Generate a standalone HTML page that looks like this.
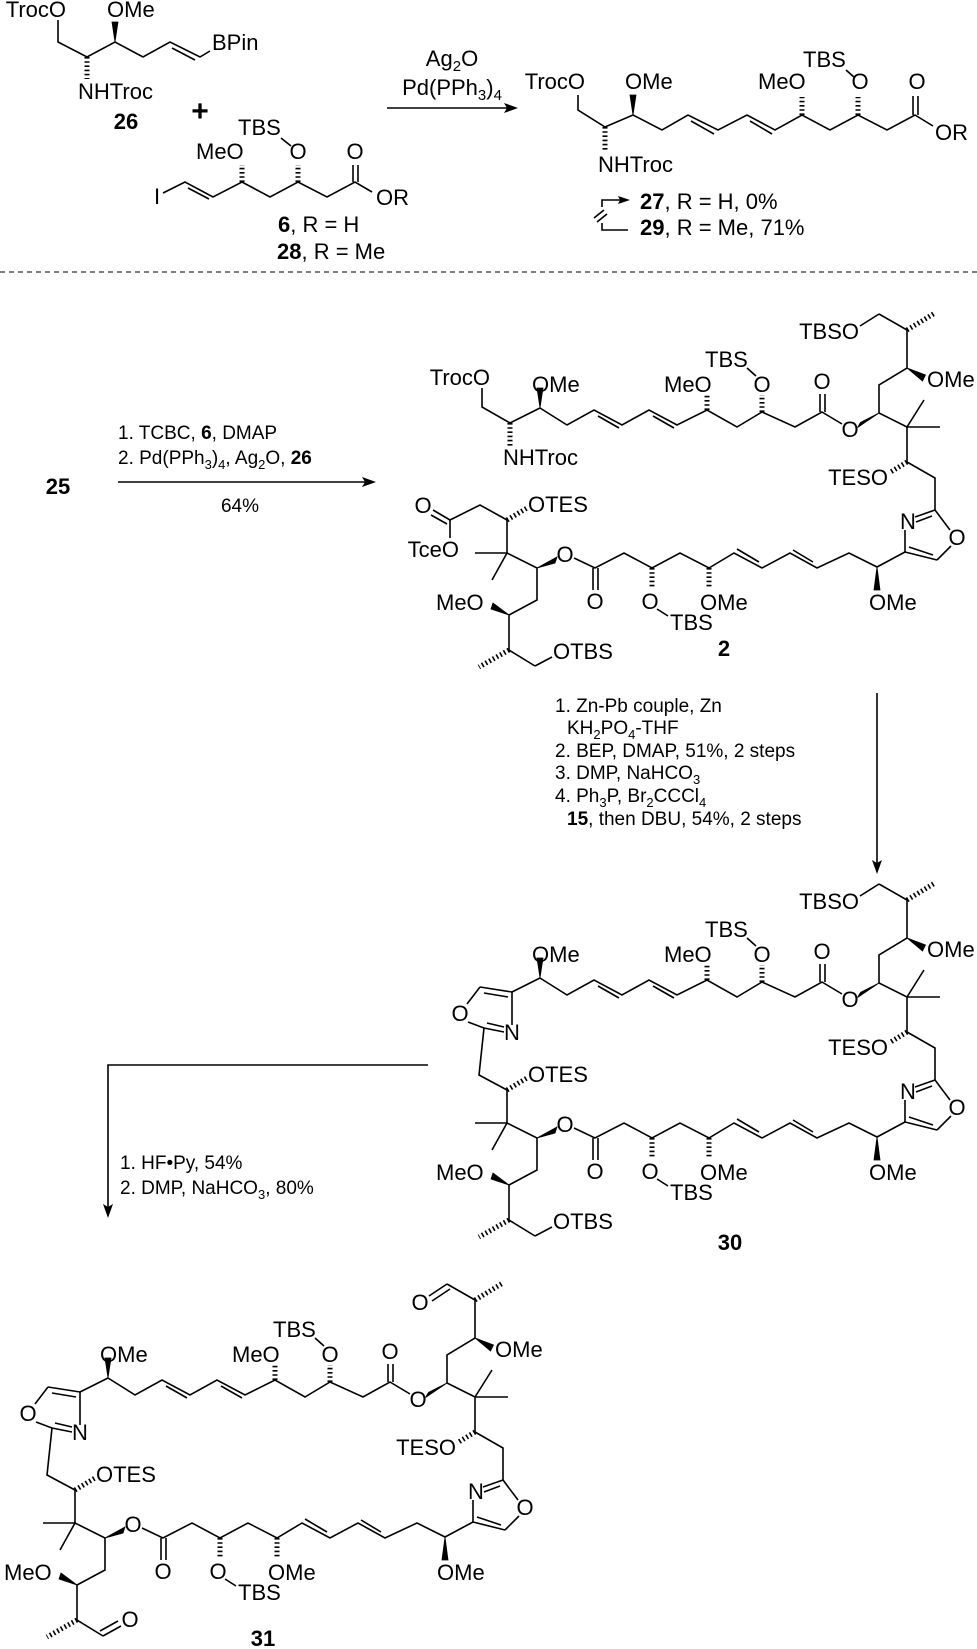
<!DOCTYPE html>
<html><head><meta charset="utf-8"><style>
html,body{margin:0;padding:0;background:#fff}
svg{display:block}
text{font-family:"Liberation Sans",Arial,sans-serif;font-size:22px;fill:#000}
.b{font-weight:bold}
.c{font-size:19px}
.m{text-anchor:middle}
.e{text-anchor:end}
line,polyline{stroke:#000;stroke-width:1.6;fill:none}
.h{stroke-width:5;stroke-dasharray:1.6 2.6}
.w{fill:#000;stroke:#000;stroke-width:0.8}
</style></head><body>
<svg width="977" height="1649" viewBox="0 0 977 1649" xmlns="http://www.w3.org/2000/svg">
<defs>
<g id="core">
<polyline points="108,1378 135,1395 162,1380 190,1395 217,1380 245,1395 275,1380 305,1397 330,1382 363,1397 390,1382 410,1394"/>
<line x1="166" y1="1386" x2="187" y2="1398"/>
<line x1="221" y1="1386" x2="242" y2="1398"/>
<line class="h" x1="275" y1="1380" x2="275" y2="1365"/>
<line class="h" x1="330" y1="1382" x2="330" y2="1365"/>
<line x1="388" y1="1382" x2="388" y2="1364"/>
<line x1="393" y1="1382" x2="393" y2="1364"/>
<line x1="315" y1="1338" x2="324" y2="1346"/>
<polygon class="w" points="447,1383 425.5,1397.6 428.5,1392.4"/>
<polyline points="475,1397 447,1383 447,1355 475,1338 475,1300 447,1284"/>
<polygon class="w" points="475,1338 490.5,1351 493.5,1345"/>
<line class="h" x1="475" y1="1300" x2="503" y2="1283"/>
<line x1="475" y1="1397" x2="492" y2="1370"/>
<line x1="475" y1="1397" x2="508" y2="1397"/>
<polyline points="475,1397 475,1432 503,1448 503,1480"/>
<line class="h" x1="475" y1="1432" x2="457" y2="1443"/>
<line x1="503" y1="1480" x2="483" y2="1487"/>
<line x1="500" y1="1486" x2="484" y2="1492"/>
<line x1="503" y1="1480" x2="518" y2="1500"/>
<line x1="519" y1="1516" x2="505" y2="1530"/>
<line x1="505" y1="1530" x2="473" y2="1522"/>
<line x1="501" y1="1525" x2="477" y2="1517"/>
<line x1="473" y1="1522" x2="473" y2="1500"/>
<line x1="473" y1="1522" x2="445" y2="1537"/>
<polygon class="w" points="445,1537 442,1560 448,1560"/>
<polyline points="445,1537 417,1523 385,1538 358,1523 330,1538 302,1523 277,1538 248,1523 220,1538 192,1523 163,1538 142,1528"/>
<line x1="381" y1="1532" x2="361" y2="1520"/>
<line x1="327" y1="1532" x2="305" y2="1519"/>
<line class="h" x1="277" y1="1538" x2="277" y2="1558"/>
<line class="h" x1="220" y1="1538" x2="220" y2="1558"/>
<line x1="225" y1="1579" x2="236" y2="1586"/>
<line x1="161" y1="1538" x2="161" y2="1560"/>
<line x1="166" y1="1538" x2="166" y2="1560"/>
<polygon class="w" points="105,1538 125,1527 123,1533"/>
<polyline points="43,1523 75,1523 105,1538 105,1570 77,1585 77,1620 103,1636"/>
<line x1="75" y1="1523" x2="60" y2="1550"/>
<line x1="75" y1="1523" x2="75" y2="1490"/>
<line class="h" x1="75" y1="1490" x2="95" y2="1478"/>
<polygon class="w" points="77,1585 61,1573 59,1579"/>
<line class="h" x1="77" y1="1620" x2="47" y2="1637"/>
<polygon class="w" points="108,1378 105,1358 111,1358"/>
</g>
<g id="oxa">
<polyline points="75,1490 47,1475 52,1428"/>
<line x1="52" y1="1428" x2="72" y2="1432"/>
<line x1="55" y1="1423" x2="72" y2="1427"/>
<line x1="80" y1="1425" x2="80" y2="1392"/>
<line x1="80" y1="1392" x2="48" y2="1387"/>
<line x1="76" y1="1397" x2="52" y2="1393"/>
<line x1="48" y1="1387" x2="35" y2="1404"/>
<line x1="36" y1="1422" x2="52" y2="1428"/>
<line x1="80" y1="1392" x2="108" y2="1378"/>
</g>
<g id="tbsends">
<line x1="447" y1="1284" x2="428" y2="1296"/>
<line x1="103" y1="1636" x2="120" y2="1627"/>
</g>
<g id="tx">
<text x="100" y="1362">OMe</text>
<text x="232" y="1362">MeO</text>
<text x="273" y="1337">TBS</text>
<text x="330" y="1362" class="m">O</text>
<text x="390" y="1359" class="m">O</text>
<text x="418" y="1407" class="m">O</text>
<text x="495" y="1357">OMe</text>
<text x="456" y="1455" class="e">TESO</text>
<text x="476" y="1499" class="m">N</text>
<text x="525" y="1515" class="m">O</text>
<text x="437" y="1580">OMe</text>
<text x="268" y="1580">OMe</text>
<text x="218" y="1579" class="m">O</text>
<text x="238" y="1600">TBS</text>
<text x="163" y="1579" class="m">O</text>
<text x="133" y="1532" class="m">O</text>
<text x="96" y="1482">OTES</text>
<text x="4" y="1580">MeO</text>
</g>
</defs>

<!-- 26 -->
<text x="66" y="17" class="e">TrocO</text>
<text x="107" y="17">OMe</text>
<polyline points="58,20 58,42 87,57 115,42 143,57 170,42 200,57 210,51"/>
<line x1="172" y1="48" x2="195" y2="60"/>
<polygon class="w" points="115,42 112,22 118,22"/>
<line class="h" x1="87" y1="57" x2="87" y2="79"/>
<text x="212" y="50">BPin</text>
<text x="78" y="99">NHTroc</text>
<text x="126" y="129" class="b m">26</text>
<text x="200" y="121" class="b m" style="font-size:30px">+</text>
<!-- 6 -->
<text x="238" y="135">TBS</text>
<text x="196" y="159">MeO</text>
<text x="298" y="159" class="m">O</text>
<text x="355" y="159" class="m">O</text>
<text x="157" y="204" class="m">I</text>
<polyline points="163,193 185,182 213,197 242,182 270,197 298,182 327,197 355,182 372,192"/>
<line x1="188" y1="188" x2="209" y2="199"/>
<line class="h" x1="242" y1="182" x2="242" y2="165"/>
<line class="h" x1="298" y1="182" x2="298" y2="165"/>
<line x1="353" y1="182" x2="353" y2="165"/>
<line x1="358" y1="182" x2="358" y2="165"/>
<line x1="281" y1="138" x2="291" y2="146"/>
<text x="376" y="205">OR</text>
<text x="278" y="232"><tspan class="b">6</tspan>,   R = H</text>
<text x="277" y="259"><tspan class="b">28</tspan>, R = Me</text>
<!-- arrow 1 -->
<text x="452" y="66" class="m">Ag<tspan font-size="15" dy="5">2</tspan><tspan dy="-5">O</tspan></text>
<text x="452" y="95" class="m">Pd(PPh<tspan font-size="15" dy="5">3</tspan><tspan dy="-5">)</tspan><tspan font-size="15" dy="5">4</tspan></text>
<line x1="387" y1="108" x2="508" y2="108"/>
<polygon points="518,108 504,103 507,108 504,113"/>
<!-- 27 -->
<text x="585" y="89" class="e">TrocO</text>
<text x="625" y="89">OMe</text>
<polyline points="578,95 578,110 605,127 633,115 662,130 688,115 718,130 747,115 775,130 802,115 830,130 858,115 887,130 915,115 933,126"/>
<line x1="691" y1="121" x2="714" y2="134"/>
<line x1="750" y1="121" x2="772" y2="134"/>
<polygon class="w" points="633,115 630,95 636,95"/>
<line class="h" x1="605" y1="127" x2="605" y2="150"/>
<text x="598" y="172">NHTroc</text>
<text x="758" y="89">MeO</text>
<line class="h" x1="802" y1="115" x2="802" y2="97"/>
<line class="h" x1="858" y1="115" x2="858" y2="97"/>
<text x="803" y="67">TBS</text>
<text x="860" y="89" class="m">O</text>
<line x1="846" y1="70" x2="855" y2="78"/>
<text x="917" y="89" class="m">O</text>
<line x1="913" y1="115" x2="913" y2="96"/>
<line x1="918" y1="115" x2="918" y2="96"/>
<text x="935" y="140">OR</text>
<text x="640" y="209"><tspan class="b">27</tspan>, R = H, 0%</text>
<text x="640" y="235"><tspan class="b">29</tspan>, R = Me, 71%</text>
<polyline points="602,207 602,200 620,200"/>
<polygon points="630,200 618,196 620,200 618,204"/>
<polyline points="602,223 602,230 628,230"/>
<line x1="594" y1="218" x2="604" y2="210"/>
<line x1="597" y1="222" x2="607" y2="214"/>
<!-- dashed -->
<line x1="0" y1="272" x2="977" y2="272" style="stroke-width:1;stroke-dasharray:5 4"/>
<!-- reaction 2 -->
<text x="58" y="494" class="b m">25</text>
<text x="118" y="439" class="c">1. TCBC, <tspan class="b">6</tspan>, DMAP</text>
<text x="118" y="464" class="c">2. Pd(PPh<tspan font-size="13" dy="5">3</tspan><tspan dy="-5">)</tspan><tspan font-size="13" dy="5">4</tspan><tspan dy="-5">, Ag</tspan><tspan font-size="13" dy="5">2</tspan><tspan dy="-5">O, </tspan><tspan class="b">26</tspan></text>
<line x1="118" y1="482" x2="366" y2="482"/>
<polygon points="376,482 362,477 365,482 362,487"/>
<text x="240" y="512" class="c m">64%</text>

<!-- compound 2 -->
<g transform="translate(432,-970)">
<use href="#core"/><use href="#tbsends"/><use href="#tx"/>
<polyline points="108,1378 78,1393 50,1377 50,1358"/>
<line class="h" x1="78" y1="1393" x2="78" y2="1416"/>
<text x="58" y="1355" class="e">TrocO</text>
<text x="71" y="1435">NHTroc</text>
<polyline points="75,1490 48,1475 18,1490 18,1508"/>
<line x1="18" y1="1490" x2="1" y2="1480"/>
<line x1="15" y1="1494" x2="-1" y2="1485"/>
<text x="-9" y="1483" class="m">O</text>
<text x="27" y="1527" class="e">TceO</text>
<text x="427" y="1309" class="e">TBSO</text>
<text x="121" y="1629">OTBS</text>
</g>
<text x="724" y="656" class="b m">2</text>

<!-- arrow 3 -->
<line x1="877" y1="693" x2="877" y2="863"/>
<polygon points="877,874 872,860 877,863 882,860"/>
<text x="555" y="712" class="c">1. Zn-Pb couple, Zn</text>
<text x="567" y="734" class="c">KH<tspan font-size="13" dy="5">2</tspan><tspan dy="-5">PO</tspan><tspan font-size="13" dy="5">4</tspan><tspan dy="-5">-THF</tspan></text>
<text x="555" y="757" class="c">2. BEP, DMAP, 51%, 2 steps</text>
<text x="555" y="779" class="c">3. DMP, NaHCO<tspan font-size="13" dy="5">3</tspan></text>
<text x="555" y="802" class="c">4. Ph<tspan font-size="13" dy="5">3</tspan><tspan dy="-5">P, Br</tspan><tspan font-size="13" dy="5">2</tspan><tspan dy="-5">CCCl</tspan><tspan font-size="13" dy="5">4</tspan></text>
<text x="567" y="825" class="c"><tspan class="b">15</tspan>, then DBU, 54%, 2 steps</text>

<!-- compound 30 -->
<g transform="translate(432,-400)">
<use href="#core"/><use href="#oxa"/><use href="#tbsends"/><use href="#tx"/>
<text x="28" y="1421" class="m">O</text>
<text x="80" y="1440" class="m">N</text>
<text x="427" y="1309" class="e">TBSO</text>
<text x="121" y="1629">OTBS</text>
</g>
<text x="730" y="1250" class="b m">30</text>

<!-- arrow 4 -->
<polyline points="428,1065 108,1065 108,1207"/>
<polygon points="108,1218 103,1204 108,1207 113,1204"/>
<text x="120" y="1169" class="c">1. HF•Py, 54%</text>
<text x="120" y="1194" class="c">2. DMP, NaHCO<tspan font-size="13" dy="5">3</tspan><tspan dy="-5">, 80%</tspan></text>

<!-- compound 31 -->
<use href="#core"/><use href="#oxa"/><use href="#tx"/>
<text x="28" y="1421" class="m">O</text>
<text x="80" y="1440" class="m">N</text>
<line x1="447" y1="1284" x2="429" y2="1296"/>
<line x1="450" y1="1289" x2="432" y2="1301"/>
<text x="420" y="1310" class="m">O</text>
<line x1="103" y1="1636" x2="121" y2="1626"/>
<line x1="100" y1="1631" x2="118" y2="1621"/>
<text x="130" y="1627" class="m">O</text>
<text x="263" y="1646" class="b m">31</text>
</svg>
</body></html>
